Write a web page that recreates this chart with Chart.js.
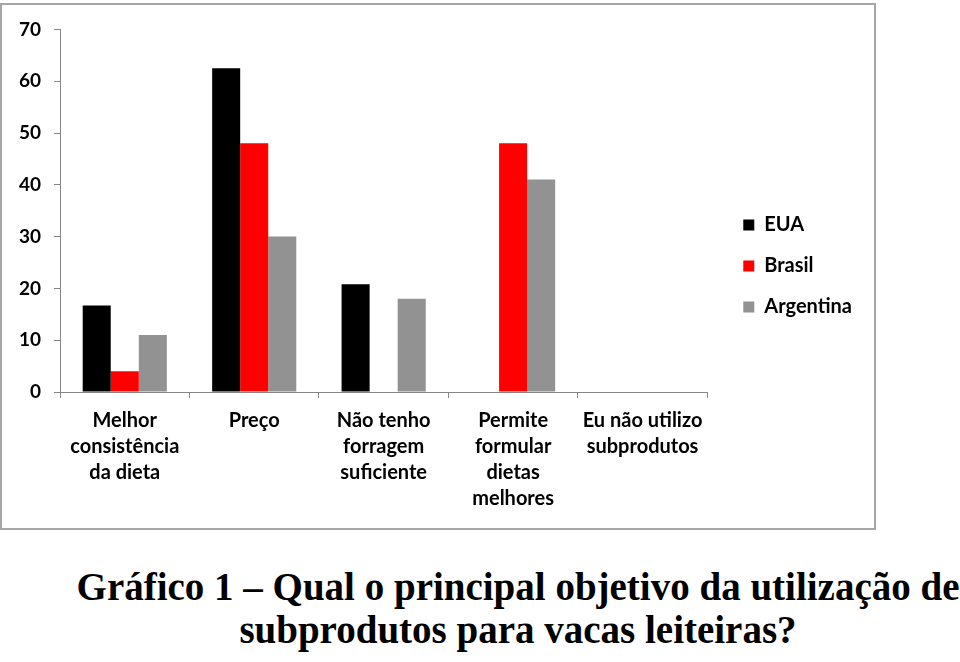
<!DOCTYPE html>
<html>
<head>
<meta charset="utf-8">
<script src="https://cdn.jsdelivr.net/npm/chart.js@4.4.1/dist/chart.umd.min.js"></script>
<style>
    body { margin: 0; background: #fff; width: 960px; height: 662px; position: relative; overflow: hidden; }
    .box { position: absolute; left: 0; top: 3px; width: 872px; height: 523px; border: 2px solid #a6a6a6; }
    .caption { position: absolute; left: 38px; top: 565px; width: 960px; text-align: center;
        font-family: "Liberation Serif", "Times New Roman", serif; font-weight: bold; font-size: 39px; line-height: 43px; color: #000; }
</style>
</head>
<body>
<div class="box"><canvas id="chart" width="872" height="523"></canvas></div>
<div class="caption">Gráfico 1 – Qual o principal objetivo da utilização de<br>subprodutos para vacas leiteiras?</div>
<script>
// categorias e valores
const categorias = [
    ['Melhor', 'consistência', 'da dieta'],
    ['Preço'],
    ['Não tenho', 'forragem', 'suficiente'],
    ['Permite', 'formular', 'dietas', 'melhores'],
    ['Eu não utilizo', 'subprodutos']
];
const eua = [16.7, 62.5, 20.8, 0, 0];
const brasil = [4, 48, 0, 48, 0];
const argentina = [11, 30, 18, 41, 0];
const yTicks = [0, 10, 20, 30, 40, 50, 60, 70];

const fonte = 'Lato, Calibri, sans-serif';

// empurra a legenda um pouco para a direita e para cima, como no original
const legendaOffset = {
    id: 'legendaOffset',
    afterLayout(chart) {
        chart.legend.left += 15;
        chart.legend.right += 15;
        chart.legend.top -= 6;
        chart.legend.bottom -= 6;
    }
};

new Chart(document.getElementById('chart'), {
    type: 'bar',
    data: {
        labels: categorias,
        datasets: [
            { label: 'EUA', data: eua, backgroundColor: '#000000' },
            { label: 'Brasil', data: brasil, backgroundColor: '#ff0000' },
            { label: 'Argentina', data: argentina, backgroundColor: '#929292' }
        ]
    },
    plugins: [legendaOffset],
    options: {
        responsive: false,
        animation: false,
        layout: { padding: { left: 4, top: 17, right: 27, bottom: 6 } },
        datasets: { bar: { categoryPercentage: 0.65, barPercentage: 1 } },
        plugins: {
            tooltip: { enabled: false },
            legend: {
                position: 'right',
                labels: {
                    boxWidth: 11, boxHeight: 11, padding: 21,
                    color: '#000',
                    font: { family: fonte, size: 20, weight: 'bold' }
                }
            }
        },
        scales: {
            x: {
                grid: { offset: true, drawOnChartArea: false, tickLength: 6, color: '#868686' },
                border: { color: '#868686', width: 1 },
                ticks: {
                    color: '#000', padding: 10, maxRotation: 0, autoSkip: false,
                    font: { family: fonte, size: 20, weight: 'bold', lineHeight: 1.3 }
                }
            },
            y: {
                min: 0, max: 70,
                afterBuildTicks: axis => { axis.ticks = yTicks.map(v => ({ value: v })); },
                grid: { drawOnChartArea: false, tickLength: 6, color: '#868686' },
                border: { color: '#868686', width: 1 },
                ticks: {
                    color: '#000', padding: 13,
                    font: { family: fonte, size: 19, weight: 'bold' }
                }
            }
        }
    }
});
</script>
</body>
</html>
